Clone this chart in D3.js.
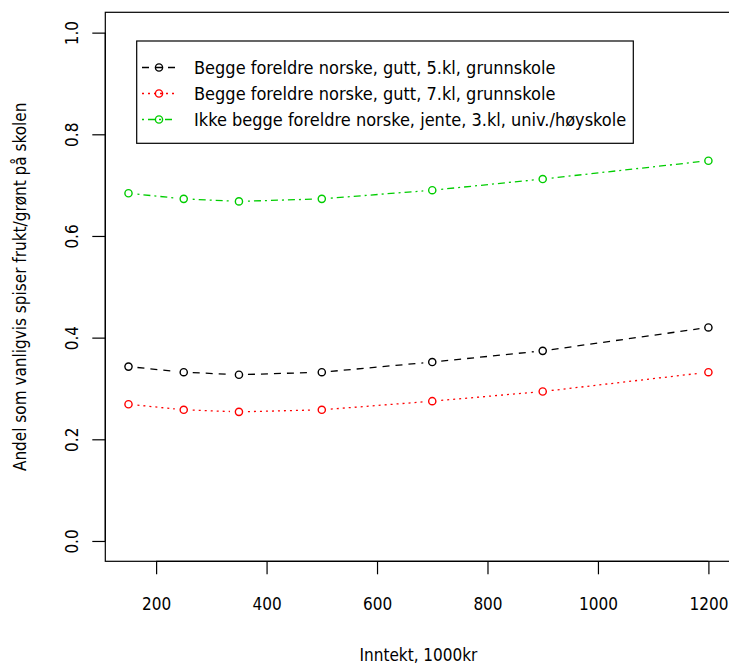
<!DOCTYPE html>
<html>
<head>
<meta charset="utf-8">
<script src="https://cdn.jsdelivr.net/npm/d3@7"></script>
<style>
  html, body { margin: 0; padding: 0; background: #fff; }
  svg text { font-family: "Liberation Sans Narrow", "DejaVu Sans Condensed", "DejaVu Sans", sans-serif; font-stretch: condensed; fill: #000; }
</style>
</head>
<body>
<svg id="chart" width="729" height="666"></svg>
<script>
// Income levels (1000 kr)
const income = [150, 250, 350, 500, 700, 900, 1200];

// Predicted share eating fruit/vegetables at school, per group
const seriesNames = [
  "Begge foreldre norske, gutt, 5.kl, grunnskole",
  "Begge foreldre norske, gutt, 7.kl, grunnskole",
  "Ikke begge foreldre norske, jente, 3.kl, univ./høyskole"
];
const boy5 = [0.343, 0.332, 0.327, 0.332, 0.352, 0.374, 0.420];
const boy7 = [0.269, 0.258, 0.254, 0.258, 0.275, 0.294, 0.332];
const girl3 = [0.684, 0.673, 0.668, 0.673, 0.690, 0.712, 0.748];

const xTicks = [200, 400, 600, 800, 1000, 1200];
const yTicks = [0.0, 0.2, 0.4, 0.6, 0.8, 1.0];

const xTitle = "Inntekt, 1000kr";
const yTitle = "Andel som vanligvis spiser frukt/grønt på skolen";

const seriesColors = ["#000000", "#ff0000", "#00cd00"];
const seriesDash = ["7,6", "2,4", "2,4,7,4"];

const series = [boy5, boy7, girl3].map((vals, i) => ({
  name: seriesNames[i],
  color: seriesColors[i],
  dash: seriesDash[i],
  points: income.map((x, j) => ({ x, y: vals[j] }))
}));

const svg = d3.select("#chart");

const plot = { left: 105.3, right: 731.6, top: 12.3, bottom: 561.3 };

// Axis ranges padded by 4% as in base graphics
const xPad = (1200 - 150) * 0.04;
const x = d3.scaleLinear().domain([150 - xPad, 1200 + xPad]).range([plot.left, plot.right]);
const y = d3.scaleLinear().domain([-0.04, 1.04]).range([plot.bottom, plot.top]);

const fontSize = 17;

// Plot frame
svg.append("rect")
  .attr("x", plot.left).attr("y", plot.top)
  .attr("width", plot.right - plot.left).attr("height", plot.bottom - plot.top)
  .attr("fill", "none").attr("stroke", "#000").attr("stroke-width", 1.2);

// X axis
const xAxis = d3.axisBottom(x).tickValues(xTicks).tickSize(13).tickPadding(24)
  .tickFormat(d3.format("d"));
const gx = svg.append("g").attr("transform", `translate(0,${plot.bottom})`).call(xAxis);
gx.select(".domain").attr("d", `M${x(200)},0H${x(1200)}`).attr("stroke-width", 1.2);
gx.selectAll(".tick line").attr("stroke-width", 1.2);
gx.selectAll(".tick text").style("font-size", fontSize + "px");

// Y axis with labels rotated parallel to the axis
const yAxis = d3.axisLeft(y).tickValues(yTicks).tickSize(13).tickFormat(d3.format(".1f"));
const gy = svg.append("g").attr("transform", `translate(${plot.left},0)`).call(yAxis);
gy.select(".domain").attr("d", `M0,${y(0)}V${y(1)}`).attr("stroke-width", 1.2);
gy.selectAll(".tick line").attr("stroke-width", 1.2);
gy.selectAll(".tick text")
  .attr("x", null).attr("dy", null)
  .attr("text-anchor", "middle")
  .attr("dominant-baseline", "central")
  .attr("transform", "translate(-33,0) rotate(-90)")
  .style("font-size", fontSize + "px");
svg.selectAll("g").attr("font-family", null).attr("font-size", null);

// Axis titles
svg.append("text")
  .attr("x", (plot.left + plot.right) / 2).attr("y", 655)
  .attr("text-anchor", "middle").attr("dominant-baseline", "central")
  .style("font-size", fontSize + "px")
  .text(xTitle);

svg.append("text")
  .attr("transform", `translate(20,${(plot.top + plot.bottom) / 2}) rotate(-90)`)
  .attr("text-anchor", "middle").attr("dominant-baseline", "central")
  .style("font-size", fontSize + "px")
  .text(yTitle);

// Lines with gaps around the points, then the points themselves
const gap = 9;
const r = 3.6;
series.forEach(s => {
  const g = svg.append("g");
  for (let j = 0; j < s.points.length - 1; j++) {
    const p0 = s.points[j], p1 = s.points[j + 1];
    const x0 = x(p0.x), y0 = y(p0.y), x1 = x(p1.x), y1 = y(p1.y);
    const len = Math.hypot(x1 - x0, y1 - y0);
    if (len <= 2 * gap) continue;
    const ux = (x1 - x0) / len, uy = (y1 - y0) / len;
    g.append("line")
      .attr("x1", x0 + ux * gap).attr("y1", y0 + uy * gap)
      .attr("x2", x1 - ux * gap).attr("y2", y1 - uy * gap)
      .attr("stroke", s.color).attr("stroke-width", 1.3)
      .attr("stroke-dasharray", s.dash);
  }
  g.selectAll("circle").data(s.points).join("circle")
    .attr("cx", d => x(d.x)).attr("cy", d => y(d.y)).attr("r", r)
    .attr("fill", "none").attr("stroke", s.color).attr("stroke-width", 1.4);
});

// Legend
const legend = { left: 136.7, top: 41, right: 633.3, bottom: 143.3, rowY: 67.5, rowStep: 26 };
svg.append("rect")
  .attr("x", legend.left).attr("y", legend.top)
  .attr("width", legend.right - legend.left).attr("height", legend.bottom - legend.top)
  .attr("fill", "#fff").attr("stroke", "#000").attr("stroke-width", 1.2);

series.forEach((s, i) => {
  const cy = legend.rowY + i * legend.rowStep;
  const g = svg.append("g");
  g.append("line")
    .attr("x1", 142).attr("x2", 176).attr("y1", cy).attr("y2", cy)
    .attr("stroke", s.color).attr("stroke-width", 1.3).attr("stroke-dasharray", s.dash);
  g.append("circle").attr("cx", 159).attr("cy", cy).attr("r", r)
    .attr("fill", "none").attr("stroke", s.color).attr("stroke-width", 1.4);
  g.append("text")
    .attr("x", 194).attr("y", cy)
    .attr("dominant-baseline", "central")
    .style("font-size", (fontSize + 1) + "px")
    .text(s.name);
});
</script>
</body>
</html>
